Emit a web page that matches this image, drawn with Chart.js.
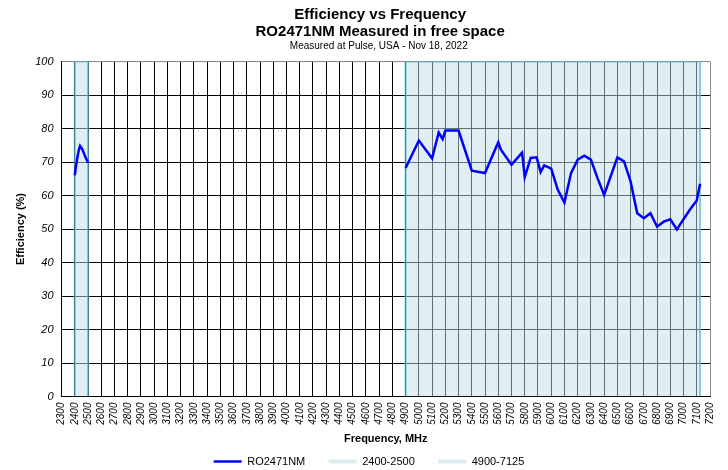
<!DOCTYPE html>
<html>
<head>
<meta charset="utf-8">
<script src="https://cdn.jsdelivr.net/npm/chart.js@4.4.0/dist/chart.umd.min.js"></script>
<style>
body { margin: 0; background: #fff; }
</style>
</head>
<body>
<canvas id="mycanvas" width="728" height="470"></canvas>
<script>
// efficiency curve, 2.4 GHz part and 5-7 GHz part
var freqLow = [2400, 2410, 2420, 2430, 2440, 2450, 2460, 2470, 2480, 2490, 2500];
var effLow = [66.0, 69.0, 71.5, 73.5, 74.8, 74.3, 73.5, 72.5, 71.5, 70.7, 69.8];

var freqHigh = [4900, 5000, 5100, 5150, 5180, 5200, 5300, 5400, 5500, 5600, 5620, 5700, 5780, 5800, 5845, 5890, 5920, 5947, 6000,
	6050, 6100, 6150, 6200, 6250, 6300, 6350, 6400, 6500, 6550, 6600, 6650, 6700, 6750, 6800, 6850, 6900, 6950, 7000, 7050, 7100, 7125];
var effHigh = [68.2, 76.4, 71.1, 78.8, 76.8, 79.4, 79.4, 67.4, 66.7, 75.9, 73.7, 69.2, 72.8, 65.5, 71.2, 71.4, 67.0, 69.0, 68.0,
	61.7, 57.9, 66.7, 70.7, 71.9, 70.7, 65.2, 60.2, 71.4, 70.2, 64.2, 54.7, 53.2, 54.7, 50.7, 52.2, 52.9, 49.9, 52.9, 55.9, 58.5, 63.5];

var bandNames = ['2400-2500', '4900-7125'];
var bandStart = [2400, 4900];
var bandEnd = [2500, 7125];

var xMin = 2300, xMax = 7200, xStep = 100;
var yMin = 0, yMax = 100, yStep = 10;

var seriesName = 'RO2471NM';
var titleLines = ['Efficiency vs Frequency', 'RO2471NM Measured in free space'];
var subTitle = 'Measured at Pulse, USA - Nov 18, 2022';

var curve = [];
for (var i in freqLow) {
	curve.push({x: freqLow[i], y: effLow[i]});
}
curve.push({x: NaN, y: null});
for (var i in freqHigh) {
	curve.push({x: freqHigh[i], y: effHigh[i]});
}

var datasets = [
	{
		label: seriesName,
		data: curve,
		borderColor: '#0000ff',
		backgroundColor: '#0000ff',
		borderWidth: 2.5,
		pointRadius: 0,
		tension: 0,
		fill: false,
		spanGaps: false,
		order: 0
	}
];
for (var b in bandNames) {
	datasets.push({
		label: bandNames[b],
		data: [
			{x: bandStart[b], y: yMin},
			{x: bandStart[b], y: yMax},
			{x: bandEnd[b], y: yMax},
			{x: bandEnd[b], y: yMin}
		],
		borderColor: 'rgba(80,185,210,0.7)',
		backgroundColor: 'rgba(195,223,233,0.5)',
		borderWidth: 2,
		pointRadius: 0,
		fill: 'origin',
		order: 1
	});
}

var legendColors = ['#0000ff', '#dcecf1', '#dcecf1'];
var legendWidths = [2.5, 4, 4];

// nudge the centred titles a little to the right, like the original
var titleShift = '        ';

var ctx = document.getElementById('mycanvas');
var chart = new Chart(ctx, {
	type: 'line',
	data: {datasets: datasets},
	options: {
		responsive: false,
		animation: false,
		devicePixelRatio: 1,
		layout: {padding: {left: 14, right: 15, top: 2, bottom: -7}},
		plugins: {
			title: {
				display: true,
				text: titleLines.map(function(t) { return titleShift + t; }),
				color: '#000',
				font: {family: 'Liberation Sans, Arial', size: 15, weight: 'bold', lineHeight: 1.15},
				padding: {top: 4, bottom: 0}
			},
			subtitle: {
				display: true,
				text: '           ' + subTitle,
				color: '#000',
				font: {family: 'Liberation Sans, Arial', size: 10},
				padding: {top: 0, bottom: 9}
			},
			legend: {
				position: 'bottom',
				fullSize: false,
				labels: {
					color: '#000',
					font: {family: 'Liberation Sans, Arial', size: 11},
					usePointStyle: true,
					pointStyleWidth: 28,
					boxHeight: 10,
					padding: 2,
					generateLabels: function(chart) {
						var n = chart.data.datasets.length;
						return chart.data.datasets.map(function(ds, i) {
							return {
								text: i < n - 1 ? ds.label + '       ' : ds.label + '           ',
								fillStyle: legendColors[i],
								strokeStyle: legendColors[i],
								lineWidth: legendWidths[i],
								pointStyle: 'line',
								hidden: false,
								datasetIndex: i,
								fontColor: '#000'
							};
						});
					}
				}
			},
			tooltip: {enabled: false}
		},
		scales: {
			x: {
				type: 'linear',
				min: xMin,
				max: xMax,
				ticks: {
					stepSize: xStep,
					autoSkip: false,
					maxRotation: 90,
					minRotation: 90,
					padding: 6,
					color: '#000',
					font: {family: 'Liberation Sans, Arial', size: 10, style: 'italic'},
					callback: function(v) { return String(v); }
				},
				grid: {
					color: function(c) { return c.tick && c.tick.value === xMax ? '#888' : '#000'; },
					lineWidth: 1,
					drawTicks: false
				},
				border: {color: '#000', width: 1},
				title: {
					display: true,
					text: 'Frequency, MHz',
					color: '#000',
					font: {family: 'Liberation Sans, Arial', size: 11, weight: 'bold'},
					padding: {top: 2, bottom: 8}
				}
			},
			y: {
				min: yMin,
				max: yMax,
				ticks: {
					stepSize: yStep,
					padding: 8,
					color: '#000',
					font: {family: 'Liberation Sans, Arial', size: 11, style: 'italic'}
				},
				grid: {
					color: function(c) { return c.tick && c.tick.value === yMax ? '#888' : '#000'; },
					lineWidth: 1,
					drawTicks: false
				},
				border: {color: '#000', width: 1},
				title: {
					display: true,
					text: 'Efficiency (%)',
					color: '#000',
					font: {family: 'Liberation Sans, Arial', size: 11, weight: 'bold'},
					padding: {top: 0, bottom: 0}
				}
			}
		}
	}
});
</script>
</body>
</html>
